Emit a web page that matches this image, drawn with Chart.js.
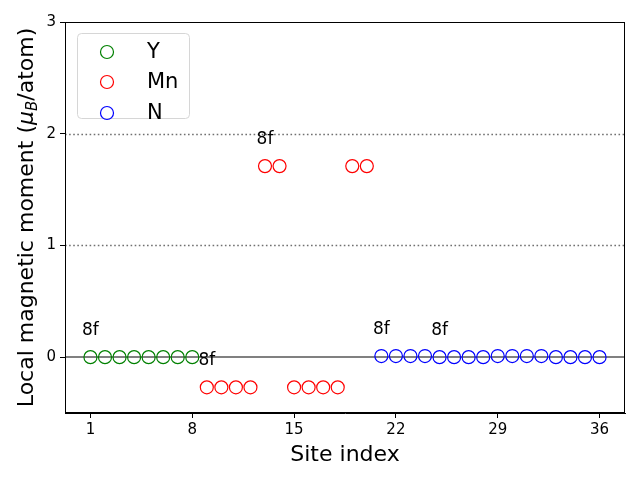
<!DOCTYPE html>
<html>
<head>
<meta charset="utf-8">
<script src="https://cdn.jsdelivr.net/npm/chart.js@4.4.1/dist/chart.umd.min.js"></script>
<style>
  html, body { margin:0; padding:0; background:#fff; }
  #c { display:block; }
</style>
</head>
<body>
<canvas id="c" width="640" height="480"></canvas>
<script>
// sites and local moments (muB/atom)
const ySites = [1,2,3,4,5,6,7,8];
const yMoments = [0,0,0,0,0,0,0,0];
const mnSites = [9,10,11,12,13,14,15,16,17,18,19,20];
const mnMoments = [-0.27,-0.27,-0.27,-0.27,1.71,1.71,-0.27,-0.27,-0.27,-0.27,1.71,1.71];
const nSites = [21,22,23,24,25,26,27,28,29,30,31,32,33,34,35,36];
const nMoments = [0.01,0.01,0.01,0.01,0,0,0,0,0.01,0.01,0.01,0.01,0,0,0,0];

// wyckoff labels
const labelSites = [1, 9, 13, 21, 25];
const labelTexts = ["8f","8f","8f","8f","8f"];

const xTicks = [1, 8, 15, 22, 29, 36];
const yTicks = [0, 1, 2, 3];
const refLinesDotted = [1, 2];

const FONT = "'DejaVu Sans', sans-serif";

function pts(xs, ys){
  return xs.map((x,i)=>({x:x, y:ys[i]}));
}

const allSites = ySites.concat(mnSites, nSites);
const allMoments = yMoments.concat(mnMoments, nMoments);
function momentAt(site){
  return allMoments[allSites.indexOf(site)];
}

/* ---------- extras drawn on canvas ---------- */
const extras = {
  id: "extras",
  beforeDatasetsDraw(chart){
    const {ctx, chartArea:a, scales:{y}} = chart;
    ctx.save();
    ctx.strokeStyle = "#707070";
    ctx.lineWidth = 1.6;
    ctx.setLineDash([1.6, 2.5]);
    refLinesDotted.forEach(v=>{
      const py = Math.round(y.getPixelForValue(v)) + 0.5;
      ctx.beginPath(); ctx.moveTo(a.left, py); ctx.lineTo(a.right, py); ctx.stroke();
    });
    ctx.setLineDash([]);
    ctx.strokeStyle = "#808080";
    ctx.lineWidth = 2;
    const p0 = Math.round(y.getPixelForValue(0));
    ctx.beginPath(); ctx.moveTo(a.left, p0); ctx.lineTo(a.right, p0); ctx.stroke();
    ctx.restore();
  },
  afterDraw(chart){
    const {ctx, chartArea:a, scales:{x, y}} = chart;
    ctx.save();

    // frame
    ctx.strokeStyle = "#000";
    ctx.lineWidth = 1;
    ctx.strokeRect(Math.round(a.left)+0.5, Math.round(a.top)+0.5,
      Math.round(a.right-a.left)-1, Math.round(a.bottom-a.top)-1);

    // 8f labels
    ctx.fillStyle = "#000";
    ctx.font = "17px " + FONT;
    ctx.textAlign = "center";
    ctx.textBaseline = "alphabetic";
    labelSites.forEach((s,i)=>{
      ctx.fillText(labelTexts[i], x.getPixelForValue(s), y.getPixelForValue(momentAt(s) + 0.2));
    });

    // legend
    const lx = 77, ly = 33, lw = 112, lh = 85;
    ctx.beginPath();
    ctx.roundRect(lx+0.5, ly+0.5, lw, lh, 4);
    ctx.fillStyle = "rgba(255,255,255,0.8)";
    ctx.fill();
    ctx.strokeStyle = "#d6d6d6";
    ctx.lineWidth = 1;
    ctx.stroke();
    const rows = [52, 82, 113];
    chart.data.datasets.forEach((ds,i)=>{
      ctx.beginPath();
      ctx.arc(107, rows[i], 6.5, 0, Math.PI*2);
      ctx.strokeStyle = ds.borderColor;
      ctx.lineWidth = 1.2;
      ctx.stroke();
      ctx.fillStyle = "#000";
      ctx.font = "21px " + FONT;
      ctx.textAlign = "left";
      ctx.textBaseline = "middle";
      ctx.fillText(ds.label, 147, rows[i] + 1);
    });

    // x title
    ctx.fillStyle = "#000";
    ctx.font = "22px " + FONT;
    ctx.textAlign = "center";
    ctx.textBaseline = "alphabetic";
    ctx.fillText("Site index", (a.left + a.right)/2, 461);

    // y title with subscript
    ctx.translate(33, (a.top + a.bottom)/2);
    ctx.rotate(-Math.PI/2);
    const parts = [
      {t:"Local magnetic moment (", f:"22px " + FONT, dy:0},
      {t:"\u03bc", f:"italic 22px " + FONT, dy:0},
      {t:"B", f:"italic 15px " + FONT, dy:4},
      {t:"/atom)", f:"22px " + FONT, dy:0}
    ];
    let total = 0;
    parts.forEach(p=>{ ctx.font = p.f; p.w = ctx.measureText(p.t).width; total += p.w; });
    let cx = -total/2;
    ctx.textAlign = "left";
    parts.forEach(p=>{
      ctx.font = p.f;
      ctx.fillText(p.t, cx, p.dy);
      cx += p.w;
    });
    ctx.restore();
  }
};

function circleSet(label, xs, ys, color){
  return {
    label: label,
    data: pts(xs, ys),
    showLine: false,
    pointStyle: "circle",
    pointRadius: 6.5,
    pointHoverRadius: 6.5,
    pointBorderWidth: 1.2,
    borderColor: color,
    backgroundColor: "rgba(0,0,0,0)"
  };
}

new Chart(document.getElementById("c"), {
  type: "scatter",
  data: {
    datasets: [
      circleSet("Y", ySites, yMoments, "#008000"),
      circleSet("Mn", mnSites, mnMoments, "#ff0000"),
      circleSet("N", nSites, nMoments, "#0000ff")
    ]
  },
  options: {
    responsive: false,
    animation: false,
    events: [],
    layout: { padding: { top: 22, right: 15, left: 0, bottom: 0 } },
    plugins: { legend: { display: false }, tooltip: { enabled: false } },
    scales: {
      x: {
        type: "linear",
        min: -0.75,
        max: 37.75,
        afterBuildTicks: s => { s.ticks = xTicks.map(v=>({value:v})); },
        afterFit: s => { s.height = 67; },
        ticks: { color: "#000", font: { family: FONT, size: 15 }, padding: 3, maxRotation: 0 },
        grid: { drawOnChartArea: false, color: "#000", tickLength: 5 },
        border: { color: "#000", width: 1 }
      },
      y: {
        min: -0.5,
        max: 3,
        afterBuildTicks: s => { s.ticks = yTicks.map(v=>({value:v})); },
        afterFit: s => { s.width = 65; },
        ticks: { color: "#000", font: { family: FONT, size: 15 }, padding: 4 },
        grid: { drawOnChartArea: false, color: "#000", tickLength: 5 },
        border: { color: "#000", width: 1 }
      }
    }
  },
  plugins: [extras]
});
</script>
</body>
</html>
